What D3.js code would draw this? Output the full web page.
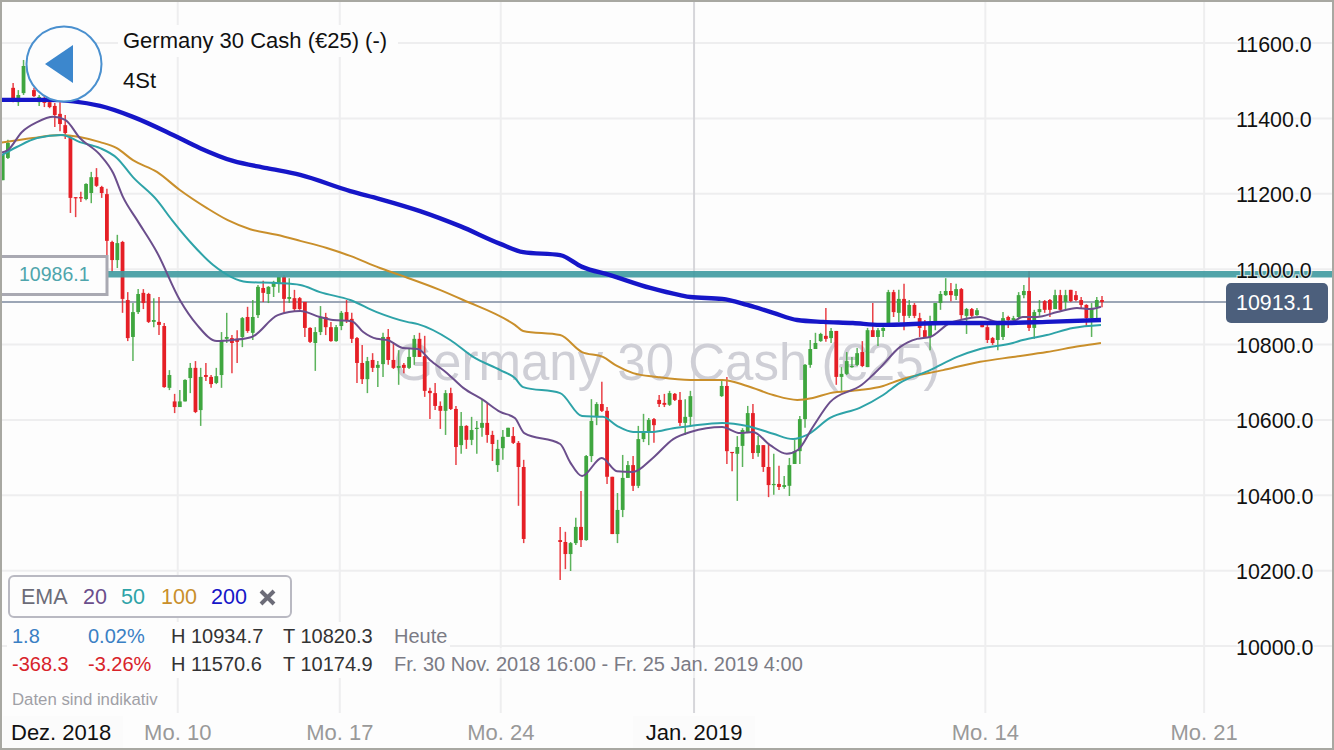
<!DOCTYPE html>
<html><head><meta charset="utf-8">
<script src="https://cdn.jsdelivr.net/npm/d3@7/dist/d3.min.js"></script>
<style>
html,body{margin:0;padding:0;background:#fdfdfd;overflow:hidden}
svg{display:block}
text{font-family:"Liberation Sans",Arial,sans-serif}
</style></head><body>
<svg id="c" width="1334" height="750"></svg>
<script>
// ---- data ----
const sessions = [[0,100],[107,132],[138,211]];
const directions = "GGRGGGRGRR"+"RRRRRRGGRR"+"RRGRRGGRRG"+"RRGRGGGRGR"+"RGGGRRGRGG"+"RGGGRGRRRR"+"GGRRGGRRRR"+"GRGGRRGRGG"+"RRRRRGRRGR"+"GGGRRGGGRR"+"R"
 +"RRGGRGGGRRRGGGRGGGRRRGRRGG"
 +"GRRGGGRGRRGRGGGGGGGGRGRGGGGRGRGGGRGRGRRRGGGGRGRGRGRRRGGRGGGRGGRRGRGRRRRGGR";
const highs = [
11303,11343,11494,11475,11555,11571,11481,11462,11459,11449,
11441,11443,11409,11356,11191,11205,11228,11258,11268,11221,
11213,11075,11091,11075,10939,10910,10947,10947,10937,10923,
10926,10857,10732,10669,10679,10708,10751,10756,10738,10751,
10719,10738,10833,10884,10825,10838,10873,10900,10918,10958,
10969,10955,10969,10979,10984,10976,10945,10926,10913,10846,
10846,10902,10884,10860,10852,10889,10918,10884,10820,10799,
10767,10777,10756,10831,10841,10804,10785,10751,10791,10825,
10831,10823,10685,10698,10649,10679,10685,10637,10621,10586,
10608,10597,10653,10645,10571,10547,10573,10579,10581,10544,
10494,
10316,10303,10276,10340,10411,10507,10655,10647,10701,10634,
10449,10406,10507,10491,10504,10584,10616,10605,10605,10666,
10669,10677,10671,10674,10655,10677,
10703,10714,10515,10557,10578,10637,10642,10557,10533,10539,
10510,10478,10451,10499,10547,10610,10748,10812,10831,10831,
10897,10844,10836,10740,10780,10767,10791,10809,10844,10910,
10844,10846,10945,10945,10945,10961,10918,10910,10884,10865,
10876,10910,10942,10976,10963,10961,10950,10897,10897,10897,
10857,10852,10820,10852,10886,10876,10876,10939,10958,10995,
10892,10918,10918,10921,10945,10945,10945,10945,10942,10926,
10907,10910,10926,10929];
const bodyTops = [
11303,11335,11481,11462,11539,11560,11475,11457,11454,11443,
11433,11412,11382,11348,11191,11191,11226,11244,11244,11218,
11199,11072,11069,11072,10918,10886,10934,10937,10934,10865,
10860,10849,10719,10649,10649,10706,10738,10738,10714,10719,
10714,10716,10812,10820,10817,10815,10870,10873,10873,10953,
10950,10953,10966,10979,10979,10926,10923,10923,10913,10844,
10833,10873,10873,10846,10846,10884,10886,10868,10817,10751,
10756,10759,10746,10820,10820,10759,10743,10746,10767,10815,
10815,10769,10677,10671,10637,10671,10671,10629,10584,10584,
10573,10579,10592,10592,10560,10523,10555,10579,10557,10539,
10475,
10281,10276,10273,10316,10316,10504,10597,10642,10642,10624,
10449,10361,10446,10480,10480,10549,10568,10600,10602,10653,
10645,10671,10669,10653,10608,10663,
10690,10690,10515,10528,10573,10618,10618,10533,10533,10475,
10430,10430,10427,10480,10517,10602,10746,10788,10804,10828,
10823,10836,10836,10722,10756,10743,10777,10780,10838,10838,
10838,10844,10939,10939,10921,10921,10905,10905,10870,10838,
10852,10910,10934,10942,10942,10947,10947,10894,10894,10891,
10854,10846,10817,10852,10870,10873,10870,10931,10942,10942,
10886,10894,10915,10918,10931,10931,10931,10945,10931,10918,
10905,10894,10918,10918];
const bodyBottoms = [
11236,11295,11454,11443,11467,11528,11459,11443,11441,11430,
11409,11385,11361,11189,11189,11189,11186,11202,11221,11202,
11075,11024,11024,10921,10817,10820,10886,10910,10860,10860,
10852,10687,10685,10634,10634,10649,10711,10621,10626,10714,
10695,10698,10719,10815,10804,10807,10820,10836,10831,10878,
10937,10934,10953,10963,10921,10921,10894,10894,10844,10807,
10804,10833,10846,10809,10809,10849,10865,10815,10751,10708,
10708,10738,10738,10748,10759,10738,10738,10738,10738,10767,
10767,10677,10671,10637,10624,10624,10629,10528,10533,10547,
10547,10576,10579,10560,10536,10480,10525,10555,10539,10475,
10284,
10276,10244,10244,10273,10281,10281,10504,10610,10624,10449,
10297,10297,10361,10446,10425,10425,10549,10568,10586,10642,
10640,10640,10653,10592,10592,10608,
10663,10517,10512,10510,10531,10565,10512,10512,10475,10427,
10427,10422,10422,10425,10483,10517,10602,10746,10788,10809,
10815,10817,10714,10714,10722,10740,10746,10743,10740,10820,
10820,10836,10857,10886,10884,10876,10876,10876,10844,10820,
10820,10852,10910,10931,10931,10929,10878,10876,10876,10878,
10846,10812,10804,10812,10820,10865,10865,10873,10931,10844,
10844,10886,10892,10892,10894,10892,10913,10915,10918,10905,
10870,10870,10899,10913];
const lows = [
11236,11292,11443,11433,11462,11515,11457,11433,11430,11427,
11377,11366,11345,11149,11138,11178,11183,11175,11218,11189,
11030,10992,11003,10884,10809,10756,10881,10894,10857,10846,
10825,10685,10679,10618,10634,10649,10671,10618,10584,10703,
10685,10695,10685,10804,10724,10751,10793,10831,10812,10870,
10913,10910,10926,10937,10884,10910,10889,10892,10820,10804,
10730,10825,10825,10807,10807,10838,10857,10804,10698,10695,
10671,10727,10687,10714,10746,10735,10693,10724,10735,10746,
10767,10661,10602,10626,10576,10560,10626,10480,10510,10523,
10533,10510,10555,10539,10491,10462,10494,10555,10536,10372,
10273,
10175,10204,10199,10268,10263,10279,10488,10586,10621,10430,
10297,10273,10342,10446,10411,10419,10541,10533,10539,10634,
10634,10637,10650,10584,10560,10581,
10661,10483,10464,10385,10475,10565,10496,10502,10462,10395,
10401,10414,10417,10398,10483,10483,10579,10738,10788,10807,
10807,10804,10693,10677,10719,10738,10743,10740,10740,10820,
10796,10820,10857,10873,10860,10838,10870,10870,10820,10817,
10785,10838,10892,10929,10915,10918,10868,10828,10873,10876,
10846,10804,10799,10785,10812,10844,10857,10870,10923,10836,
10815,10876,10884,10873,10894,10889,10892,10913,10915,10897,
10849,10820,10870,10899];

const ema20Slots  = [-0.5,1,3.7,6.6,9.7,12,14.8,18.7,21.2,23.1,25.8,29.6,34,37.3,41.1,44.2,47.8,52.8,57.1,60.9,63.4,67,69.2,71.8,73.8,76.8,79.7,82,85.3,88.4,92.2,95.5,98.3,100.1,107,108.9,111.2,115,117.9,121,124.8,128.7,132,138.1,141.5,144,147.3,150.5,152.6,155.5,158.8,164.9,168.4,172.2,175.5,178,181.8,183.8,187.6,190.9,193.9,195.8,198.5,202.4,206.2,208.7,210.8];
const ema20Values = [11308,11316,11364,11390,11404,11396,11348,11303,11255,11191,11130,11045,10918,10852,10809,10812,10820,10878,10889,10873,10865,10862,10833,10815,10812,10791,10788,10759,10724,10685,10653,10621,10605,10565,10536,10488,10451,10499,10464,10462,10499,10549,10568,10581,10565,10568,10533,10510,10520,10581,10647,10693,10738,10793,10815,10820,10857,10865,10873,10860,10862,10873,10873,10886,10897,10894,10900];
const ema50Slots  = [-0.5,2.7,6.6,11.4,14.8,18.7,21.9,25,29.6,32.5,36,40.4,46.9,52.6,57.1,60.9,66.7,71.8,77.6,79.7,85.9,90.3,95.5,98.3,99.9,107,111.2,115.2,117.9,121,124.8,128.7,132,138.1,142.9,147.9,151.7,154.4,158.8,164.5,169,172.2,178,183.2,187.6,193.9,195.8,200.4,205.4,210.8];
const ema50Values = [11300,11324,11348,11356,11337,11321,11295,11244,11183,11130,11072,11011,10966,10963,10958,10939,10918,10886,10860,10854,10812,10767,10732,10711,10687,10671,10610,10608,10584,10568,10568,10578,10584,10592,10584,10563,10549,10560,10605,10632,10666,10698,10732,10767,10788,10804,10812,10825,10844,10852];
const ema100Slots  = [-0.5,5.8,11,18.7,21.9,25,29.6,34,39.2,43.2,47.5,52.6,57.1,62.2,66.7,72.4,76.3,83.9,88.4,98.3,99.9,107,111.2,115.2,117.9,121,125.6,132,138.1,142.9,147.9,152.5,155.5,158.8,164.5,169,172.2,180.5,187.6,193.9,200.4,206.8,210.8];
const ema100Values = [11335,11348,11356,11337,11321,11289,11258,11210,11162,11130,11106,11091,11075,11056,11035,11003,10984,10945,10918,10852,10836,10825,10780,10767,10743,10724,10714,10706,10706,10690,10666,10653,10658,10671,10679,10690,10706,10732,10754,10767,10780,10796,10804];
const ema200Slots  = [-0.5,8.5,18.7,25,32.7,37.9,44.2,50.7,57.1,66.7,72.4,80.1,87.8,95.5,99.9,107,111.2,116.6,124.3,130,132,138.1,142.9,147.9,152.5,157.5,163.2,168.4,181.2,190.8,200.4,210.8];
const ema200Values = [11449,11449,11433,11404,11356,11321,11287,11268,11250,11207,11186,11154,11114,11067,11045,11037,11006,10984,10950,10931,10926,10921,10905,10884,10865,10860,10857,10852,10857,10857,10860,10865];

const yTicks = [10000,10200,10400,10600,10800,11000,11200,11400,11600];
const xTickSlots  = [33.6,64.7,95.6,132.7,188.6,230.6];
const xTickLabels = ["Mo. 10","Mo. 17","Mo. 24","Jan. 2019","Mo. 14","Mo. 21"];
const firstMonthLabel = "Dez. 2018";
const lastPrice = 10913.1, alertLevel = 10986.1;
const emaPeriods = ["20","50","100","200"];
const emaColors = ["#6b4e8c","#2ea3a8","#c98f2b","#1616c8"];

// ---- scales ----
const x = d3.scaleLinear().domain([0,211]).range([2.7,1102]);
const y = d3.scaleLinear().domain([10000,11600]).range([646,43]);
const svg = d3.select("#c");
const BG="#fdfdfd", GRID="#eeeeef";

svg.append("rect").attr("width",1334).attr("height",750).attr("fill",BG);

// grid
const grid = svg.append("g");
grid.selectAll(".h").data(yTicks).join("line").attr("class","h").attr("x1",2).attr("x2",1332)
  .attr("y1",d=>y(d)).attr("y2",d=>y(d)).attr("stroke",GRID).attr("stroke-width",2);
grid.selectAll(".v").data(xTickSlots).join("line").attr("class","v").attr("x1",d=>x(d)).attr("x2",d=>x(d))
  .attr("y1",2).attr("y2",713).attr("stroke",(d,i)=>xTickLabels[i].startsWith("Jan")?"#d6d6da":GRID).attr("stroke-width",2);

// watermark
svg.append("text").attr("x",667).attr("y",380).attr("text-anchor","middle")
  .attr("font-size",51).attr("fill","#cfcfd6").text("Germany 30 Cash (€25)");

// current price line
svg.append("line").attr("x1",0).attr("x2",1228).attr("y1",y(lastPrice)).attr("y2",y(lastPrice))
  .attr("stroke","#9ca6b6").attr("stroke-width",2);

// candles
const candleSlots = sessions.flatMap(([a,b])=>d3.range(a,b+1));
const candles = candleSlots.map((s,i)=>({s,up:directions[i]==="G",h:highs[i],t:bodyTops[i],b:bodyBottoms[i],l:lows[i]}));
const col = d=>d.up?"#3fa63f":"#e51f26";
const cg = svg.append("g");
cg.selectAll(".w").data(candles).join("line").attr("class","w").attr("x1",d=>x(d.s)).attr("x2",d=>x(d.s))
  .attr("y1",d=>y(d.h)).attr("y2",d=>y(d.l)).attr("stroke",col).attr("stroke-width",1.5).attr("stroke-opacity",.85);
cg.selectAll(".b").data(candles).join("rect").attr("class","b").attr("x",d=>x(d.s)-1.9).attr("width",3.8)
  .attr("y",d=>y(d.t)).attr("height",d=>Math.max(1.2,y(d.b)-y(d.t))).attr("fill",col);

// alert level
svg.append("line").attr("x1",105).attr("x2",1334).attr("y1",y(alertLevel)).attr("y2",y(alertLevel))
  .attr("stroke","#3e9aa0").attr("stroke-opacity",.9).attr("stroke-width",6.5);

// EMA lines
const line = d3.line().x(d=>x(d[0])).y(d=>y(d[1])).curve(d3.curveMonotoneX);
[[ema100Slots,ema100Values,2,2],[ema50Slots,ema50Values,1,2],[ema20Slots,ema20Values,0,2],[ema200Slots,ema200Values,3,4.4]].forEach(([sl,v,c,w])=>{
  svg.append("path").attr("d",line(sl.map((s,i)=>[s,v[i]]))).attr("fill","none")
   .attr("stroke",emaColors[c]).attr("stroke-width",w).attr("stroke-linejoin","round").attr("stroke-linecap","butt");
});

// alert label
svg.append("rect").attr("x",-3).attr("y",256.5).attr("width",110).attr("height",38).attr("fill",BG)
  .attr("stroke","#a9a9b2").attr("stroke-width",3);
svg.append("text").attr("x",19).attr("y",281).attr("font-size",19.5).attr("fill","#4fa5ac").text(d3.format(".1f")(alertLevel));

// y axis labels
const ya = svg.append("g");
ya.selectAll("text").data(yTicks).join("text").attr("x",1236).attr("y",d=>y(d)+8.5).attr("font-size",21.4)
  .attr("fill","#111").attr("stroke",BG).attr("stroke-width",2.5).attr("stroke-opacity",.7).attr("paint-order","stroke")
  .text(d=>d3.format(".1f")(d));

// price tag
svg.append("rect").attr("x",1226).attr("y",283).attr("width",102).attr("height",40).attr("rx",5).attr("fill","#4c5f7c");
svg.append("text").attr("x",1236).attr("y",310).attr("font-size",21.4).attr("fill","#fff").text(d3.format(".1f")(lastPrice));

// title block & back button
svg.append("rect").attr("x",118).attr("y",25).attr("width",280).attr("height",32).attr("fill",BG);
svg.append("rect").attr("x",118).attr("y",68).attr("width",44).attr("height",28).attr("fill",BG);
svg.append("text").attr("x",123).attr("y",48).attr("font-size",22).attr("fill","#111").text("Germany 30 Cash (€25) (-)");
svg.append("text").attr("x",123).attr("y",88).attr("font-size",22).attr("fill","#111").text("4St");
svg.append("circle").attr("cx",64).attr("cy",64).attr("r",37.5).attr("fill",BG).attr("stroke","#4a90cf").attr("stroke-width",2);
svg.append("path").attr("d",d3.line()([[45,64],[73,45],[73,83]])+"Z").attr("fill","#3c87cd");

// info block
svg.append("rect").attr("x",7).attr("y",622).attr("width",443).attr("height",26).attr("fill",BG);
svg.append("rect").attr("x",7).attr("y",648).attr("width",383).attr("height",30).attr("fill",BG);
svg.append("rect").attr("x",390).attr("y",648).attr("width",420).attr("height",30).attr("fill",BG).attr("fill-opacity",.6);
const infoRows = [
 {y:643,vals:["1.8","0.02%"],col:"#3a80c4",h:"H 10934.7",t:"T 10820.3",r:"Heute"},
 {y:671,vals:["-368.3","-3.26%"],col:"#d8232a",h:"H 11570.6",t:"T 10174.9",r:"Fr. 30 Nov. 2018 16:00 - Fr. 25 Jan. 2019 4:00"}];
infoRows.forEach(r=>{
  const t=(xx,s,c)=>svg.append("text").attr("x",xx).attr("y",r.y).attr("font-size",20).attr("fill",c).text(s);
  t(12,r.vals[0],r.col);t(88,r.vals[1],r.col);t(171,r.h,"#333");t(283,r.t,"#333");t(394,r.r,"#7b7b85");
});
svg.append("text").attr("x",12).attr("y",705).attr("font-size",16.8).attr("fill","#a0a0a6").text("Daten sind indikativ");

// legend
svg.append("rect").attr("x",9).attr("y",576).attr("width",282).attr("height",41).attr("rx",5).attr("fill",BG)
  .attr("stroke","#b9b9c2").attr("stroke-width",2);
svg.append("text").attr("x",21).attr("y",604).attr("font-size",21.5).attr("fill","#6c6c78").text("EMA");
const legendX=[83,121,161,211];
svg.selectAll(".lg").data(emaPeriods).join("text").attr("class","lg").attr("x",(d,i)=>legendX[i]).attr("y",604).attr("font-size",21.5)
  .attr("fill",(d,i)=>emaColors[i]).text(d=>d);
svg.append("path").attr("d","M261 591L274 604M274 591L261 604").attr("stroke","#6c6c78").attr("stroke-width",4);

// x axis labels
svg.append("rect").attr("x",3).attr("y",716).attr("width",120).attr("height",32).attr("fill","#fbfbfb");
svg.append("rect").attr("x",633).attr("y",716).attr("width",122).attr("height",32).attr("fill","#fbfbfb");
svg.append("text").attr("x",11).attr("y",740).attr("font-size",22).attr("fill","#111").text(firstMonthLabel);
svg.selectAll(".xl").data(xTickSlots).join("text").attr("class","xl").attr("x",d=>x(d)).attr("y",740).attr("text-anchor","middle")
  .attr("font-size",22).attr("fill",(d,i)=>xTickLabels[i].startsWith("Jan")?"#111":"#999").text((d,i)=>xTickLabels[i]);

// frame
svg.append("rect").attr("x",1).attr("y",1).attr("width",1332).attr("height",748).attr("fill","none")
  .attr("stroke","#a8a8a2").attr("stroke-width",2);
</script>
</body></html>
